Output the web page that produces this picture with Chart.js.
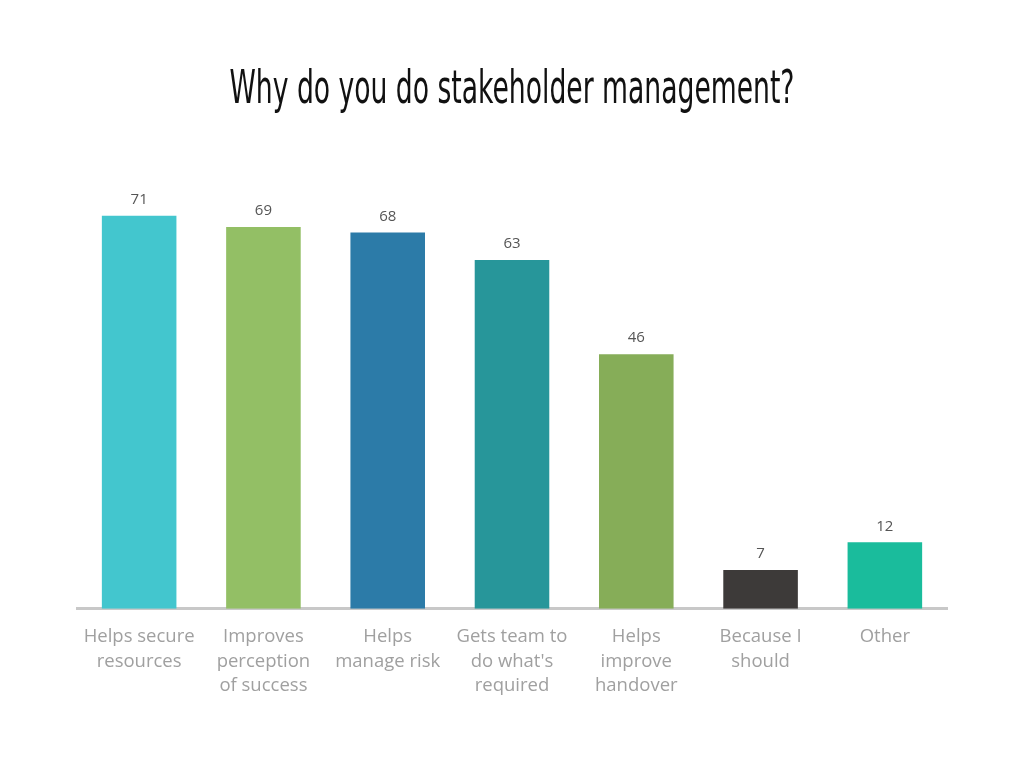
<!DOCTYPE html>
<html>
<head>
<meta charset="utf-8">
<script src="https://cdn.jsdelivr.net/npm/chart.js@4.4.1/dist/chart.umd.min.js"></script>
<style>
  html, body { margin: 0; padding: 0; background: #ffffff; }
  #wrap { width: 1024px; height: 768px; position: relative; }
</style>
</head>
<body>
<div id="wrap"><canvas id="reasonChart" width="1024" height="768"></canvas></div>
<script>
// chart data
const chartTitle = 'Why do you do stakeholder management?';
const categories = [
    ['Helps secure', 'resources'],
    ['Improves', 'perception', 'of success'],
    ['Helps', 'manage risk'],
    ['Gets team to', "do what's", 'required'],
    ['Helps', 'improve', 'handover'],
    ['Because I', 'should'],
    ['Other']
];
const responses = [71, 69, 68, 63, 46, 7, 12];
const barColors = ['#43c6ce', '#93bf65', '#2c7ba8', '#27969a', '#86ad58', '#3d3a39', '#1abc9c'];

// condensed title (no narrow font installed, so squeeze it horizontally)
const condensedTitle = {
    id: 'condensedTitle',
    afterDraw(chart) {
        const ctx = chart.ctx;
        ctx.save();
        ctx.font = '46px "DejaVu Sans Condensed", "DejaVu Sans", sans-serif';
        ctx.fillStyle = '#111111';
        ctx.textAlign = 'center';
        ctx.textBaseline = 'alphabetic';
        const sx = 565 / ctx.measureText(chartTitle).width;
        ctx.translate(chart.width / 2, 103);
        ctx.scale(sx, 1);
        ctx.fillText(chartTitle, 0, 0);
        ctx.restore();
    }
};

// value labels above each bar
const valueLabels = {
    id: 'valueLabels',
    afterDatasetsDraw(chart) {
        const ctx = chart.ctx;
        const meta = chart.getDatasetMeta(0);
        ctx.save();
        ctx.font = '15px "Open Sans", sans-serif';
        ctx.fillStyle = '#555555';
        ctx.textAlign = 'center';
        ctx.textBaseline = 'middle';
        meta.data.forEach((bar, i) => {
            ctx.fillText(String(responses[i]), bar.x, bar.y - 16);
        });
        ctx.restore();
    }
};

const chart = new Chart(document.getElementById('reasonChart'), {
    type: 'bar',
    data: {
        labels: categories,
        datasets: [{
            data: responses,
            backgroundColor: barColors,
            borderWidth: 0,
            categoryPercentage: 1,
            barPercentage: 0.6
        }]
    },
    options: {
        responsive: false,
        animation: false,
        layout: {
            padding: { left: 77, right: 77, top: 166, bottom: 54 }
        },
        plugins: {
            legend: { display: false },
            tooltip: { enabled: false },
            title: { display: false }
        },
        scales: {
            x: {
                grid: { display: false, drawTicks: false },
                border: { display: true, color: '#c8c8c8', width: 3 },
                ticks: {
                    color: '#a0a0a0',
                    font: { family: '"Open Sans", sans-serif', size: 18.5, lineHeight: 1.32 },
                    padding: 16,
                    maxRotation: 0,
                    autoSkip: false
                }
            },
            y: {
                display: false,
                min: 0,
                max: 80
            }
        }
    },
    plugins: [valueLabels, condensedTitle]
});
</script>
</body>
</html>
